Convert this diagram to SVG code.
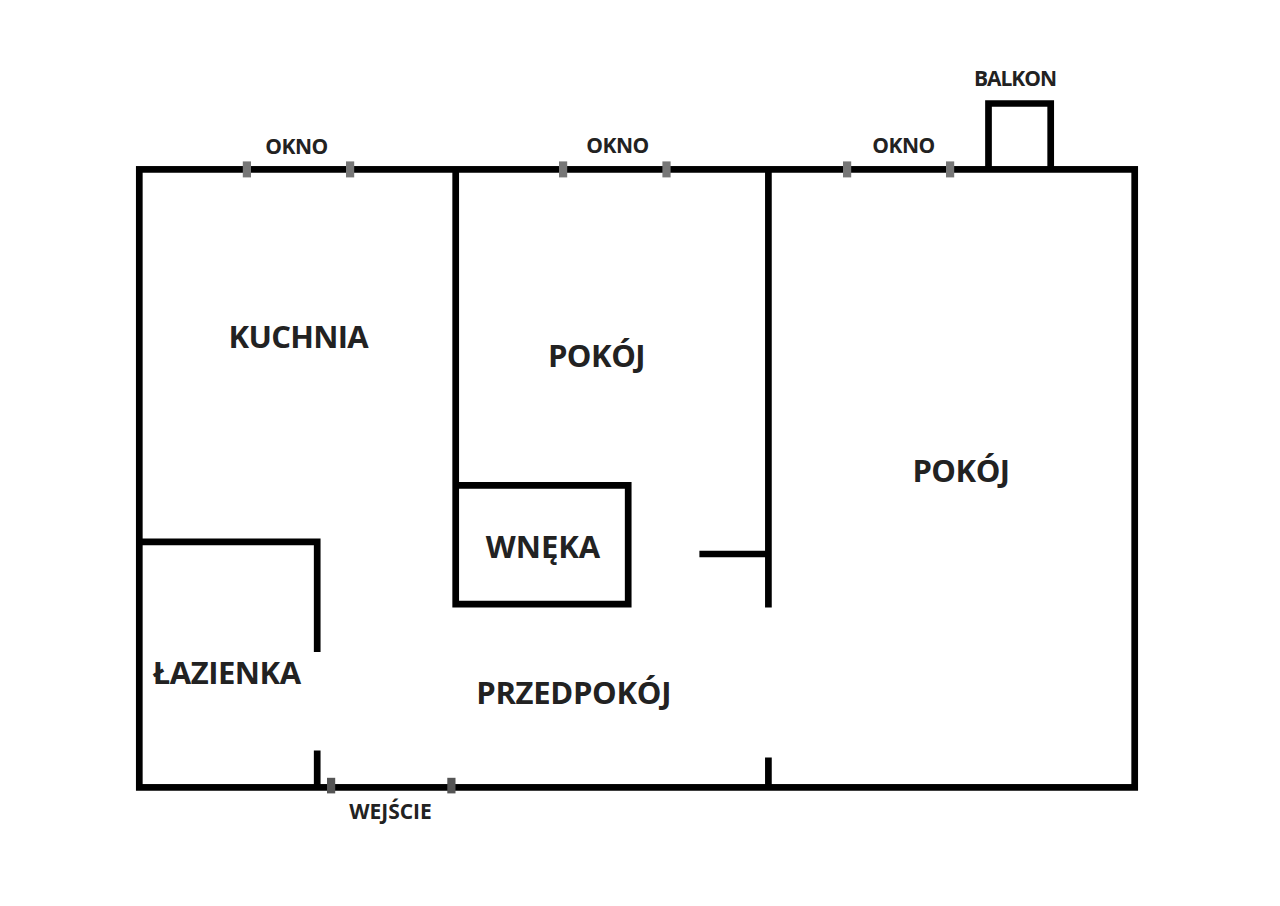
<svg xmlns="http://www.w3.org/2000/svg" width="1280" height="906" viewBox="0 0 1280 906">
<style>
.w{fill:none;stroke:#000;stroke-width:6.7;stroke-linejoin:miter;stroke-linecap:butt}
.m{fill:#777}
.d{fill:#555}
text{font-family:"Open Sans","Noto Sans",sans-serif;font-weight:700;fill:#222;text-anchor:middle}
.l{font-size:31px}
.s{font-size:21px}
.t1{letter-spacing:-.3px}
.t2{letter-spacing:-.5px}
.t3{letter-spacing:-.7px}
.t4{letter-spacing:-1px}
</style>
<rect width="1280" height="906" fill="#fff"/>
<g id="walls">
<rect class="w" x="139.3" y="169.4" width="995.4" height="618"/>
<path class="w" d="M455.7 169.4V604.2H628.2V485.3H455.7"/>
<path class="w" d="M768.4 169.4V607.4M699.4 554H768.4M768.4 757.4V787.4"/>
<path class="w" d="M139.3 541.9H317.2V652M317.2 750.4V787.4"/>
<path class="w" d="M988.5 169.4V103.5H1050.7V169.4"/>
</g>
<g id="openings">
<rect class="m" x="242.8" y="161.4" width="8.2" height="16"/>
<rect class="m" x="346" y="161.4" width="8.2" height="16"/>
<rect class="m" x="559" y="161.4" width="8.2" height="16"/>
<rect class="m" x="662.4" y="161.4" width="8.2" height="16"/>
<rect class="m" x="843" y="161.4" width="8.2" height="16"/>
<rect class="m" x="946" y="161.4" width="8.2" height="16"/>
<rect class="d" x="327" y="777.8" width="8.2" height="15.6"/>
<rect class="d" x="447.3" y="777.8" width="8.2" height="15.6"/>
</g>
<g id="labels">
<text class="s t2" x="296.5" y="154">OKNO</text>
<text class="s t2" x="617.5" y="153">OKNO</text>
<text class="s t2" x="903.5" y="153">OKNO</text>
<text class="s t4" x="1015" y="86">BALKON</text>
<text class="s" x="390.5" y="819">WEJŚCIE</text>
<text class="l t3" x="298.3" y="348">KUCHNIA</text>
<text class="l t2" x="596.5" y="367">POKÓJ</text>
<text class="l t2" x="961" y="482">POKÓJ</text>
<text class="l" x="543" y="558">WNĘKA</text>
<text class="l t2" x="226.7" y="684">ŁAZIENKA</text>
<text class="l t1" x="573.7" y="704">PRZEDPOKÓJ</text>
</g>
</svg>
